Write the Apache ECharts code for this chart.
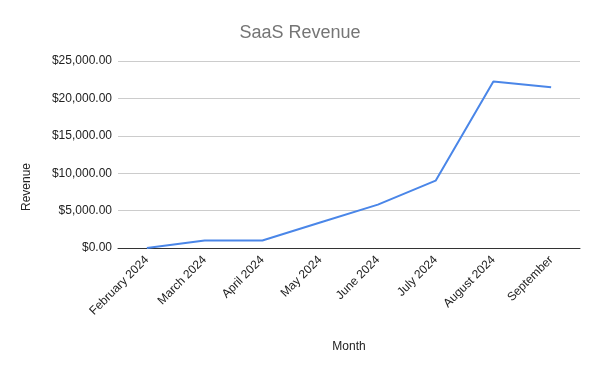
<!DOCTYPE html>
<html><head><meta charset="utf-8">
<script src="https://cdn.jsdelivr.net/npm/echarts@6/dist/echarts.min.js"></script>
<style>html,body{margin:0;padding:0;background:#fff}#c{width:600px;height:371px}</style>
</head><body><div id="c"></div>
<script>
var categories = ["February 2024","March 2024","April 2024","May 2024","June 2024","July 2024","August 2024","September"];
var revenue = [0, 1000, 1000, 3400, 5800, 9000, 22250, 21500];
var yTicks = [0, 5000, 10000, 15000, 20000, 25000];

var chart = echarts.init(document.getElementById('c'), null, {renderer:'canvas'});
chart.setOption({
  animation:false,
  title:{text:'SaaS Revenue', left:'center', top:19, textStyle:{color:'#757575', fontSize:18, fontWeight:'normal', fontFamily:'Liberation Sans, Arial'}},
  grid:{left:118, right:20, top:61, bottom:123},
  graphic:[{type:'text', x:27, y:187, rotation:Math.PI/2,
    style:{text:'Revenue', fill:'#222', fontSize:12, fontFamily:'Liberation Sans, Arial', textAlign:'center', textVerticalAlign:'middle'}}],
  xAxis:{type:'category', data:categories, boundaryGap:true,
    name:'Month', nameLocation:'middle', nameGap:93,
    nameTextStyle:{color:'#222', fontSize:12, fontFamily:'Liberation Sans, Arial'},
    axisLine:{lineStyle:{color:'#333', width:1}}, axisTick:{show:false},
    axisLabel:{rotate:45, color:'#222', fontSize:12, fontFamily:'Liberation Sans, Arial', margin:10, interval:0}},
  yAxis:{type:'value', min:yTicks[0], max:yTicks[yTicks.length-1], interval:5000,
    axisLine:{show:false}, axisTick:{show:false},
    splitLine:{lineStyle:{color:'#ccc'}},
    axisLabel:{color:'#222', fontSize:12, fontFamily:'Liberation Sans, Arial', margin:6,
      formatter:function(v){return '$'+v.toLocaleString('en-US',{minimumFractionDigits:2,maximumFractionDigits:2});}}},
  series:[{type:'line', data:revenue, showSymbol:false, lineStyle:{color:'#4a86e8', width:2}, itemStyle:{color:'#4a86e8'}}]
});
</script></body></html>
